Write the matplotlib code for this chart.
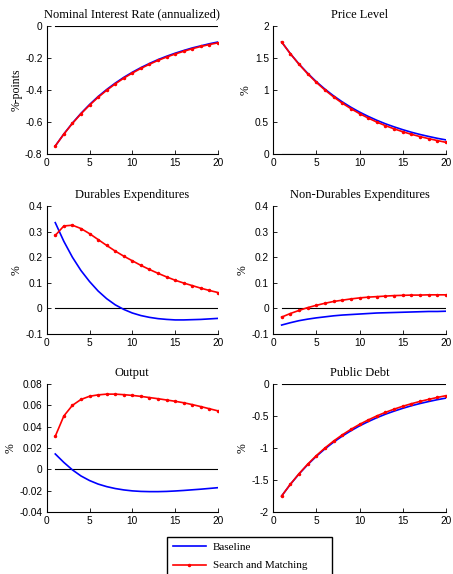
import numpy as np
import matplotlib
matplotlib.use("Agg")
import matplotlib.pyplot as plt
from matplotlib.ticker import FuncFormatter

plt.rcParams['axes.unicode_minus'] = False

periods = np.arange(1, 21)

titles = ['Nominal Interest Rate (annualized)', 'Price Level',
          'Durables Expenditures', 'Non-Durables Expenditures',
          'Output', 'Public Debt']
ylabels = ['%-points', '%', '%', '%', '%', '%']

# baseline responses
rate_base = [-0.750, -0.675, -0.607, -0.546, -0.491, -0.441, -0.397, -0.357, -0.321, -0.289,
             -0.260, -0.234, -0.210, -0.189, -0.170, -0.153, -0.137, -0.124, -0.111, -0.100]
price_base = [1.750, 1.569, 1.407, 1.262, 1.131, 1.014, 0.909, 0.815, 0.731, 0.655,
              0.588, 0.527, 0.472, 0.424, 0.380, 0.340, 0.305, 0.274, 0.245, 0.220]
dur_base = [0.335, 0.262, 0.200, 0.148, 0.105, 0.068, 0.038, 0.014, -0.004, -0.018,
            -0.028, -0.035, -0.040, -0.043, -0.045, -0.045, -0.044, -0.043, -0.041, -0.039]
nondur_base = [-0.065, -0.056, -0.048, -0.042, -0.037, -0.033, -0.029, -0.026, -0.024, -0.022,
               -0.020, -0.018, -0.017, -0.016, -0.015, -0.014, -0.013, -0.012, -0.012, -0.011]
output_base = [0.0144, 0.0065, -0.0005, -0.0062, -0.0105, -0.0138, -0.0162, -0.0180, -0.0193, -0.0202,
               -0.0207, -0.0209, -0.0209, -0.0207, -0.0203, -0.0198, -0.0192, -0.0186, -0.0179, -0.0172]
debt_base = [-1.750, -1.569, -1.407, -1.262, -1.131, -1.014, -0.909, -0.815, -0.731, -0.655,
             -0.588, -0.527, -0.472, -0.424, -0.380, -0.340, -0.305, -0.274, -0.245, -0.220]

# search and matching responses
rate_sm = [-0.750, -0.676, -0.609, -0.549, -0.495, -0.446, -0.402, -0.362, -0.326, -0.294,
           -0.265, -0.239, -0.215, -0.194, -0.175, -0.158, -0.142, -0.128, -0.116, -0.105]
price_sm = [1.750, 1.567, 1.403, 1.254, 1.120, 1.000, 0.892, 0.795, 0.709, 0.631,
            0.562, 0.499, 0.443, 0.393, 0.348, 0.308, 0.272, 0.240, 0.210, 0.182]
dur_sm = [0.285, 0.322, 0.325, 0.312, 0.292, 0.269, 0.246, 0.224, 0.204, 0.186,
          0.168, 0.152, 0.137, 0.123, 0.110, 0.099, 0.089, 0.079, 0.070, 0.062]
nondur_sm = [-0.034, -0.020, -0.008, 0.003, 0.012, 0.020, 0.027, 0.032, 0.037, 0.041,
             0.044, 0.046, 0.048, 0.050, 0.051, 0.052, 0.052, 0.053, 0.053, 0.053]
output_sm = [0.0310, 0.0500, 0.0600, 0.0655, 0.0685, 0.0698, 0.0705, 0.0705, 0.0700, 0.0693,
             0.0684, 0.0673, 0.0662, 0.0650, 0.0638, 0.0624, 0.0607, 0.0588, 0.0568, 0.0548]
debt_sm = [-1.750, -1.567, -1.403, -1.254, -1.120, -1.000, -0.892, -0.795, -0.709, -0.631,
           -0.562, -0.499, -0.443, -0.393, -0.348, -0.308, -0.272, -0.240, -0.210, -0.182]

base = [rate_base, price_base, dur_base, nondur_base, output_base, debt_base]
sm = [rate_sm, price_sm, dur_sm, nondur_sm, output_sm, debt_sm]

yticks = [[-0.8, -0.6, -0.4, -0.2, 0],
          [0, 0.5, 1, 1.5, 2],
          [-0.1, 0, 0.1, 0.2, 0.3, 0.4],
          [-0.1, 0, 0.1, 0.2, 0.3, 0.4],
          [-0.04, -0.02, 0, 0.02, 0.04, 0.06, 0.08],
          [-2, -1.5, -1, -0.5, 0]]

W, H = 453, 574
fig = plt.figure(figsize=(W / 100, H / 100), dpi=100)

col_left = [46.7, 273]
col_width = [171.3, 173]
row_top = [26, 206, 384]
row_height = 128

serif = 'Liberation Serif'
sans = 'Liberation Sans'

for k in range(6):
    r, c = divmod(k, 2)
    ax = fig.add_axes([col_left[c] / W, 1 - (row_top[r] + row_height) / H,
                       col_width[c] / W, row_height / H])
    ax.plot(periods, np.zeros_like(periods), color='black', lw=0.8)
    ax.plot(periods, base[k], color='blue', lw=1.2, label='Baseline')
    ax.plot(periods, sm[k], color='red', lw=1.2, marker='.', markersize=3,
            label='Search and Matching')
    ax.set_xlim(0, 20)
    ax.set_xticks([0, 5, 10, 15, 20])
    ax.set_ylim(yticks[k][0], yticks[k][-1])
    ax.set_yticks(yticks[k])
    ax.yaxis.set_major_formatter(FuncFormatter(lambda v, p: '%g' % v))
    for side in ['top', 'right']:
        ax.spines[side].set_visible(False)
    for side in ['left', 'bottom']:
        ax.spines[side].set_linewidth(0.8)
    ax.tick_params(direction='in', length=3, width=0.6, labelsize=7.3, pad=3)
    for lab in ax.get_xticklabels() + ax.get_yticklabels():
        lab.set_fontfamily(sans)
    ax.set_title(titles[k], fontsize=9, fontfamily=serif, pad=6)
    ax.set_ylabel(ylabels[k], fontsize=8.5, fontfamily=serif, labelpad=2)

handles, labels = ax.get_legend_handles_labels()
leg_h = 50
fig.legend(handles, labels, loc='upper left',
           bbox_to_anchor=(167 / W, 1 - (537 + leg_h) / H, 165 / W, leg_h / H),
           mode='expand', borderaxespad=0, fancybox=False, edgecolor='black',
           framealpha=1, handlelength=3.0, handletextpad=0.6,
           borderpad=0.5, labelspacing=0.75, prop={'family': serif, 'size': 8})

fig.savefig('out.png', dpi=100)
